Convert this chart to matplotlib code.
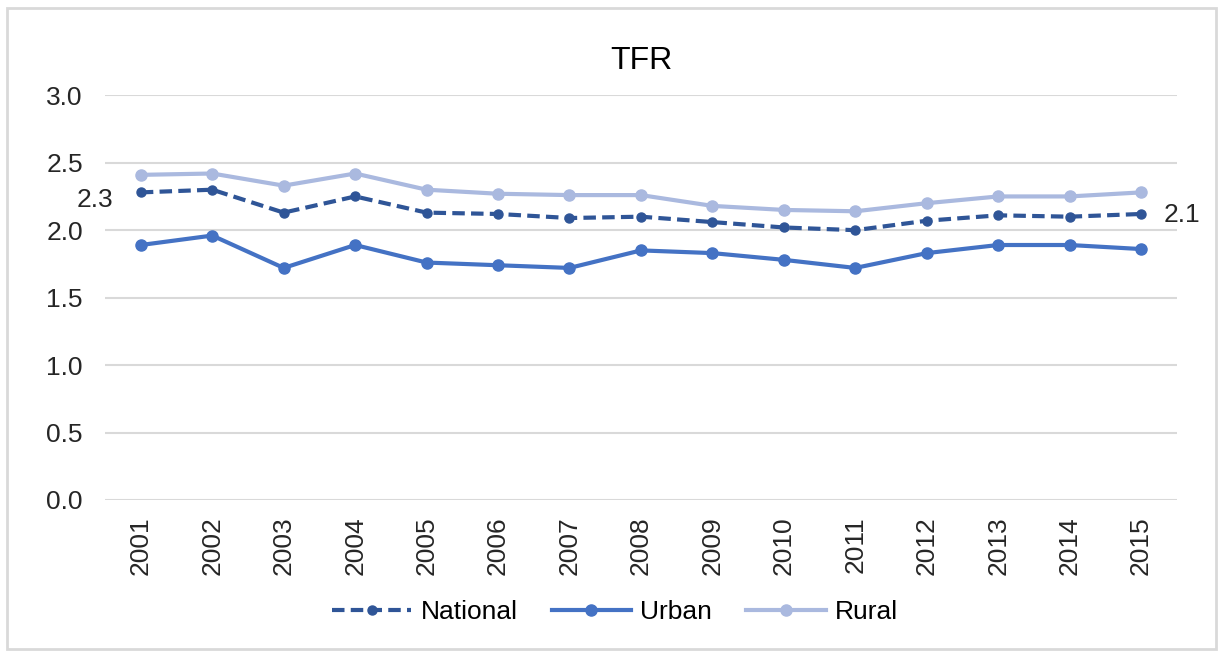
import numpy as np
import matplotlib.pyplot as plt
from matplotlib.patches import Rectangle

plt.rcParams['font.family'] = ['Liberation Sans', 'DejaVu Sans']

years = [str(y) for y in range(2001, 2016)]
national = [2.28, 2.30, 2.13, 2.25, 2.13, 2.12, 2.09, 2.10, 2.06, 2.02, 2.00, 2.07, 2.11, 2.10, 2.12]
urban = [1.89, 1.96, 1.72, 1.89, 1.76, 1.74, 1.72, 1.85, 1.83, 1.78, 1.72, 1.83, 1.89, 1.89, 1.86]
rural = [2.41, 2.42, 2.33, 2.42, 2.30, 2.27, 2.26, 2.26, 2.18, 2.15, 2.14, 2.20, 2.25, 2.25, 2.28]

fig = plt.figure(figsize=(12.22, 6.57), dpi=100)
fig.patches.append(Rectangle((0.006, 0.012), 0.989, 0.976, transform=fig.transFigure,
                             fill=False, edgecolor='#D9D9D9', linewidth=2))
ax = fig.add_axes([0.086, 0.239, 0.877, 0.616])

x = np.arange(len(years))
ax.plot(x, national, color='#2F5597', linestyle=(0, (3, 1.5)), linewidth=3,
        marker='o', markersize=6.5, label='National')
ax.plot(x, urban, color='#4472C4', linewidth=3, marker='o', markersize=8, label='Urban')
ax.plot(x, rural, color='#AAB9DF', linewidth=3, marker='o', markersize=8, label='Rural')

ax.text(x[0] - 0.38, national[0] - 0.06, '2.3', ha='right', va='center', fontsize=19, color='#262626')
ax.text(x[-1] + 0.32, national[-1] - 0.01, '2.1', ha='left', va='center', fontsize=19, color='#262626')

ax.set_xlim(-0.5, len(years) - 0.5)
ax.set_ylim(0, 3.0)
ax.set_yticks(np.arange(0, 3.01, 0.5))
ax.set_yticklabels(['%.1f' % v for v in np.arange(0, 3.01, 0.5)])
ax.set_xticks(x)
ax.set_xticklabels(years, rotation=90)
ax.tick_params(axis='y', length=0, labelsize=19, labelcolor='#262626', pad=16)
ax.tick_params(axis='x', length=0, labelsize=19, labelcolor='#262626', pad=12)
ax.grid(axis='y', color='#D9D9D9', linewidth=1.5)
ax.set_axisbelow(True)
for s in ax.spines.values():
    s.set_visible(False)

ax.set_title('TFR', fontsize=23, color='#000000', pad=19)
fig.legend(*ax.get_legend_handles_labels(), loc='center', bbox_to_anchor=(615 / 1222, 1 - 612 / 657),
           ncol=3, frameon=False, fontsize=19, handlelength=3.0, columnspacing=1.3,
           handletextpad=0.35, borderpad=0)

fig.savefig('out.png', dpi=100)
